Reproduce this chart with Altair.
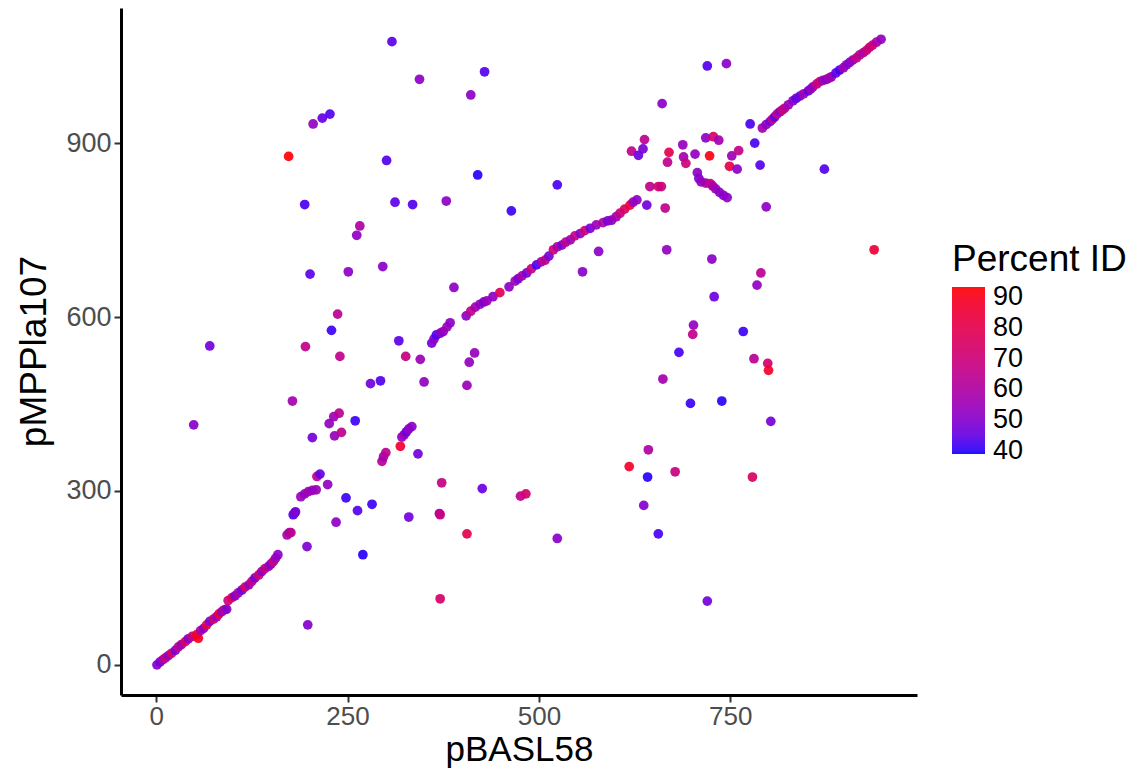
import altair as alt
import pandas as pd

# ---- lower diagonal run ----
low_x = [1, 5, 9, 12, 16, 20, 25, 29, 33, 38, 42, 47, 53, 55, 58, 62, 66, 70, 75, 79, 82, 86, 89, 92,
         94, 99, 103, 107, 112, 116, 121, 125, 129, 134, 138, 142, 147, 150, 153, 156, 159,
         171, 174, 176, 179, 181, 182, 189, 194, 199, 204, 209, 210, 214]
low_y = [0, 5, 9, 12, 16, 20, 25, 31, 35, 40, 45, 49, 52, 46, 59, 63, 69, 75, 79, 83, 88, 92, 95, 96,
         111, 116, 119, 124, 129, 134, 138, 144, 150, 155, 161, 166, 170, 174, 178, 184, 190,
         224, 228, 228, 259, 262, 264, 290, 295, 299, 301, 302, 325, 329]
low_pid = [50, 48, 57, 70, 52, 75, 48, 65, 55, 80, 50, 68, 88, 90, 60, 52, 82, 48, 72, 57, 85, 52, 65, 50,
           70, 78, 48, 60, 45, 75, 55, 66, 48, 72, 52, 68, 57, 50, 70, 55, 52,
           60, 55, 65, 42, 48, 48, 55, 52, 57, 53, 55, 66, 45]

# ---- middle diagonal run ----
mid_x = [360, 363, 366, 371, 375, 380, 384, 405, 411, 417, 423, 428, 432, 440, 449, 461, 469, 473,
         478, 484, 490, 497, 503, 508, 513, 519, 524, 530, 535, 541, 547, 554, 560, 567, 575, 584,
         590, 595, 601, 606, 612, 619, 623, 628]
mid_y = [555, 562, 569, 572, 575, 583, 590, 602, 610, 617, 622, 626, 628, 635, 642, 652, 662, 666,
         671, 676, 683, 690, 695, 698, 705, 716, 721, 724, 729, 733, 740, 744, 749, 753, 759, 763,
         766, 767, 773, 779, 786, 793, 798, 802]
mid_pid = [47, 52, 42, 50, 53, 55, 52, 52, 66, 57, 53, 48, 55, 52, 78, 52, 57, 48,
           60, 48, 68, 42, 57, 66, 48, 70, 60, 48, 66, 55, 66, 52, 70, 48, 55, 60,
           48, 52, 57, 68, 75, 88, 55, 52]

# ---- upper diagonal run ----
up_x = [792, 797, 802, 805, 808, 811, 815, 818, 821, 826, 832, 836, 841, 846, 852, 855, 858, 863,
        867, 871, 876, 879, 882, 888, 893, 898, 902, 906, 910, 915, 919, 924, 928, 932, 936, 941, 947]
up_y = [926, 932, 937, 941, 945, 950, 954, 957, 960, 966, 973, 977, 981, 985, 990, 993, 997, 1002,
        1006, 1008, 1010, 1012, 1014, 1021, 1026, 1030, 1035, 1039, 1043, 1047, 1052, 1056, 1060,
        1065, 1069, 1074, 1079]
up_pid = [57, 52, 48, 66, 44, 68, 48, 70, 64, 55, 52, 45, 46, 57, 44, 55, 53, 66,
          72, 57, 48, 60, 55, 44, 42, 57, 52, 50, 55, 65, 66, 57, 70, 68, 72, 60, 53]

# ---- scattered points ----
out_x = [308, 344, 205, 217, 227, 173, 301, 194, 312, 335, 379, 266, 262, 201, 251, 296, 237, 229,
         317, 70, 195, 240, 326, 345, 280, 293, 350, 178, 49, 226, 232, 239, 233, 242, 260, 204,
         321, 324, 327, 330, 334, 319, 295, 297, 300, 342, 373, 370, 371, 330, 248, 263, 282, 270,
         235, 197, 198, 371, 224, 406, 409, 416, 406, 426, 476, 483, 524, 683, 781, 799, 800, 662,
         698, 739, 803, 643, 618, 642, 678, 779, 637, 656, 720, 429, 411, 661, 420, 524, 464, 389,
         578, 557, 667, 702, 701, 665, 641, 645, 656, 660, 621, 630, 636, 638, 670, 668, 688, 689,
         692, 704, 718, 728, 735, 723, 752, 761, 749, 759, 707, 709, 712, 718, 724, 727, 731, 736,
         741, 746, 720, 745, 776, 782, 789, 873, 797, 938, 726, 790, 785, 729, 767]
out_y = [1075, 1010, 933, 943, 950, 877, 870, 794, 798, 794, 800, 757, 741, 674, 678, 687, 605, 577,
         559, 550, 549, 532, 532, 527, 485, 490, 488, 455, 414, 416, 428, 434, 395, 401, 421, 392,
         393, 397, 402, 407, 411, 377, 351, 359, 366, 364, 314, 261, 259, 255, 288, 266, 277, 190,
         246, 204, 69, 114, 311, 226, 522, 538, 482, 304, 291, 295, 218, 539, 528, 520, 508, 493,
         451, 455, 420, 371, 342, 324, 333, 324, 275, 226, 110, 1023, 983, 968, 845, 828, 783, 651,
         713, 678, 716, 586, 570, 788, 793, 825, 825, 825, 886, 879, 890, 906, 884, 867, 897, 876,
         865, 881, 909, 911, 905, 878, 878, 887, 860, 855, 849, 839, 833, 831, 830, 826, 821, 815,
         810, 806, 1033, 1037, 933, 900, 862, 855, 790, 716, 700, 676, 655, 635, 575]
out_pid = [44, 52, 53, 45, 43, 93, 43, 42, 44, 43, 52, 60, 52, 44, 52, 51, 64, 41,
           44, 47, 66, 66, 68, 55, 47, 43, 53, 57, 51, 53, 55, 64, 54, 65, 41, 47,
           53, 55, 46, 52, 51, 86, 63, 57, 64, 47, 67, 53, 68, 47, 41, 43, 41, 40,
           52, 49, 50, 74, 53, 80, 53, 54, 55, 46, 66, 72, 51, 42, 63, 73, 88, 57,
           41, 40, 48, 60, 88, 40, 68, 75, 50, 42, 47, 43, 52, 52, 40, 42, 41, 52,
           52, 51, 53, 53, 66, 66, 47, 65, 72, 70, 66, 46, 48, 65, 80, 65, 54, 57,
           70, 53, 52, 74, 57, 92, 55, 66, 82, 52, 52, 50, 53, 57, 66, 60, 55, 52,
           51, 52, 43, 51, 42, 42, 43, 43, 52, 85, 51, 64, 53, 46, 41]

df = pd.DataFrame({
    "xv": low_x + mid_x + up_x + out_x,
    "yv": low_y + mid_y + up_y + out_y,
    "pid": low_pid + mid_pid + up_pid + out_pid,
})

FONT = "Liberation Sans"

chart = alt.Chart(df).mark_circle(size=95, opacity=0.92).encode(
    x=alt.X("xv:Q",
            scale=alt.Scale(domain=[-46, 994], nice=False, zero=False),
            axis=alt.Axis(values=[0, 250, 500, 750], title="pBASL58", grid=False,
                          domainColor="black", domainWidth=3,
                          tickColor="#333333", tickWidth=2, tickSize=7,
                          labelFontSize=26, labelColor="#4D4D4D", labelPadding=1, labelFont=FONT,
                          titleFontSize=35, titleFont=FONT, titleFontWeight="normal",
                          titleColor="black", titleX=398, titleY=65,
                          titleBaseline="alphabetic", titleAnchor="middle")),
    y=alt.Y("yv:Q",
            scale=alt.Scale(domain=[-52, 1133], nice=False, zero=False),
            axis=alt.Axis(values=[0, 300, 600, 900], title="pMPPla107", grid=False,
                          domainColor="black", domainWidth=3,
                          tickColor="#333333", tickWidth=2, tickSize=7,
                          labelFontSize=27, labelColor="#4D4D4D", labelPadding=3, labelFont=FONT,
                          titleFontSize=37, titleFont=FONT, titleFontWeight="normal",
                          titleColor="black", titleX=-76, titleY=343, titleAngle=270,
                          titleBaseline="alphabetic", titleAnchor="middle")),
    color=alt.Color("pid:Q",
                    scale=alt.Scale(domain=[38.9, 93.3], range=["#0000ff", "#ff0000"],
                                    interpolate="lab"),
                    legend=alt.Legend(title="Percent ID", orient="none", legendX=831, legendY=234,
                                      direction="vertical", gradientLength=167,
                                      gradientThickness=33, gradientStrokeWidth=0,
                                      values=[40, 50, 60, 70, 80, 90], labelOverlap=False,
                                      labelFontSize=27, labelColor="black", labelFont=FONT,
                                      labelOffset=8,
                                      titleFontSize=37, titleFont=FONT, titleFontWeight="normal",
                                      titleColor="black", titlePadding=8)),
).properties(
    width=796, height=687,
    padding={"left": 113, "top": 0, "right": 215, "bottom": 75},
    autosize=alt.AutoSizeParams(type="none"),
).configure_view(stroke=None)

chart.save("out.html", embed_options={"renderer": "svg", "actions": False})
